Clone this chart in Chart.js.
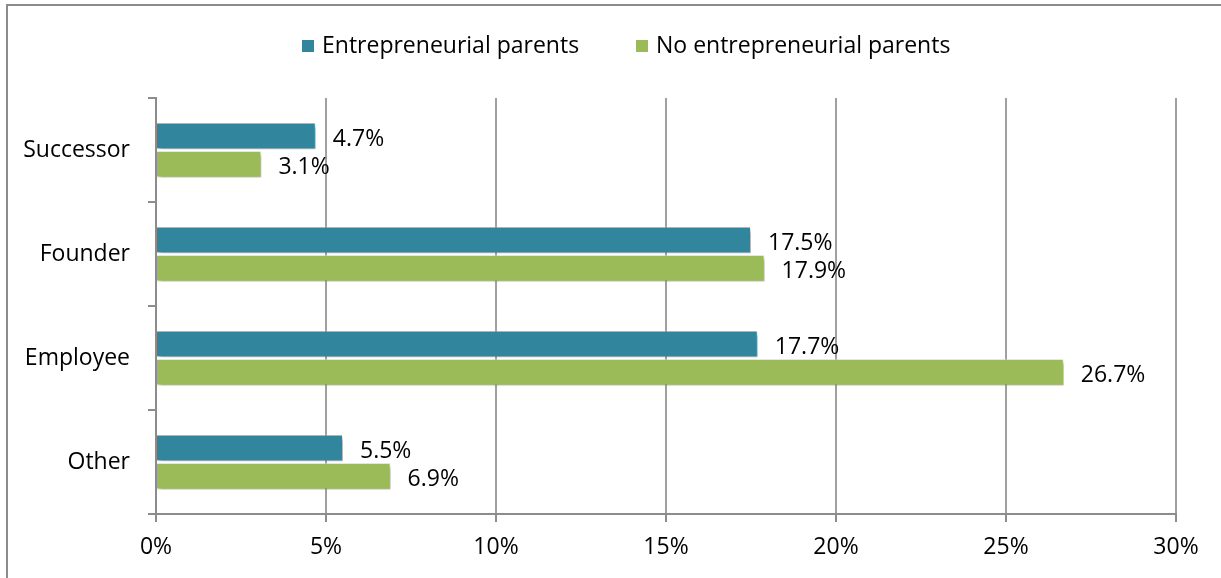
<!DOCTYPE html>
<html>
<head>
<meta charset="utf-8">
<script src="https://cdn.jsdelivr.net/npm/chart.js@4"></script>
<style>
    html, body { margin: 0; padding: 0; background: #fff; overflow: hidden; }
    #wrap { position: relative; width: 1221px; height: 578px; }
    #frame {
        position: absolute; left: 6px; top: 4px; width: 1400px; height: 800px;
        border-left: 2px solid #8c8c8c; border-top: 2px solid #8c8c8c;
        box-sizing: border-box;
    }
    #legend { position: absolute; left: 0; top: 0; font: 23px "Open Sans", sans-serif; color: #000; }
    .legend-item { position: absolute; top: 29px; white-space: nowrap; line-height: 30px; }
    .legend-box { display: inline-block; width: 12px; height: 12px; margin-right: 8px; vertical-align: 1px; }
    canvas { position: absolute; left: 0; top: 0; }
</style>
</head>
<body>
<div id="wrap">
    <div id="frame"></div>
    <canvas id="role-chart" width="1221" height="578"></canvas>
    <div id="legend"></div>
</div>
<script>
// 职业角色分布数据
const categories = ['Successor', 'Founder', 'Employee', 'Other'];
const seriesNames = ['Entrepreneurial parents', 'No entrepreneurial parents'];
const withParents = [4.7, 17.5, 17.7, 5.5];
const withoutParents = [3.1, 17.9, 26.7, 6.9];
const xTicks = [0, 5, 10, 15, 20, 25, 30];

const FONT = '"Open Sans", sans-serif';
const FONT_SIZE = 23;
const BLUE = '#31859c';
const GREEN = '#9bbb59';
const AXIS_GRAY = '#8c8c8c';

// 柱子阴影 + 数值标签
const barDecorPlugin = {
    id: 'barDecor',
    beforeDatasetsDraw(chart) {
        const ctx = chart.ctx;
        ctx.save();
        ctx.shadowColor = 'rgba(0, 0, 0, 0.35)';
        ctx.shadowBlur = 4;
        ctx.shadowOffsetX = 2;
        ctx.shadowOffsetY = 3;
    },
    afterDatasetsDraw(chart) {
        const ctx = chart.ctx;
        ctx.restore();
        ctx.save();
        ctx.font = FONT_SIZE + 'px ' + FONT;
        ctx.fillStyle = '#000';
        ctx.textAlign = 'left';
        ctx.textBaseline = 'middle';
        chart.data.datasets.forEach((ds, i) => {
            chart.getDatasetMeta(i).data.forEach((bar, j) => {
                ctx.fillText(ds.data[j].toFixed(1) + '%', bar.x + 17, bar.y + 3);
            });
        });
        ctx.restore();
    }
};

function createRoleChart() {
    const ctx = document.getElementById('role-chart').getContext('2d');

    window.roleChart = new Chart(ctx, {
        type: 'bar',
        data: {
            labels: categories,
            datasets: [
                {
                    label: seriesNames[0],
                    data: withParents,
                    backgroundColor: BLUE,
                    borderColor: 'rgba(255, 255, 255, 0.5)',
                    borderWidth: 1
                },
                {
                    label: seriesNames[1],
                    data: withoutParents,
                    backgroundColor: GREEN,
                    borderColor: 'rgba(255, 255, 255, 0.5)',
                    borderWidth: 1
                }
            ]
        },
        options: {
            indexAxis: 'y',
            responsive: false,
            animation: false,
            events: [],
            datasets: {
                bar: {
                    categoryPercentage: 0.54,
                    barPercentage: 0.95
                }
            },
            layout: {
                padding: { top: 98, right: 45, bottom: 0, left: 0 }
            },
            scales: {
                x: {
                    min: 0,
                    max: 30,
                    afterBuildTicks(scale) {
                        scale.ticks = xTicks.map(v => ({ value: v }));
                    },
                    afterFit(scale) {
                        scale.height = 64;
                    },
                    grid: {
                        color: '#a0a0a0',
                        lineWidth: 2,
                        tickLength: 8,
                        tickColor: AXIS_GRAY
                    },
                    border: { color: AXIS_GRAY, width: 2 },
                    ticks: {
                        padding: 12,
                        color: '#000',
                        font: { family: FONT, size: FONT_SIZE },
                        callback: v => v + '%'
                    }
                },
                y: {
                    afterFit(scale) {
                        scale.width = 156;
                    },
                    grid: {
                        drawOnChartArea: false,
                        offset: true,
                        tickLength: 8,
                        color: AXIS_GRAY,
                        lineWidth: 2
                    },
                    border: { color: AXIS_GRAY, width: 2 },
                    ticks: {
                        padding: 18,
                        color: '#000',
                        font: { family: FONT, size: FONT_SIZE }
                    }
                }
            },
            plugins: {
                legend: { display: false },
                tooltip: { enabled: false }
            }
        },
        plugins: [barDecorPlugin]
    });

    buildLegend();
}

// 图例放在图表上方
function buildLegend() {
    const legend = document.getElementById('legend');
    const colors = [BLUE, GREEN];
    const lefts = [302, 636];
    seriesNames.forEach((name, i) => {
        const item = document.createElement('div');
        item.className = 'legend-item';
        item.style.left = lefts[i] + 'px';
        item.innerHTML = '<span class="legend-box" style="background:' + colors[i] + '"></span>' + name;
        legend.appendChild(item);
    });
}

createRoleChart();
</script>
</body>
</html>
